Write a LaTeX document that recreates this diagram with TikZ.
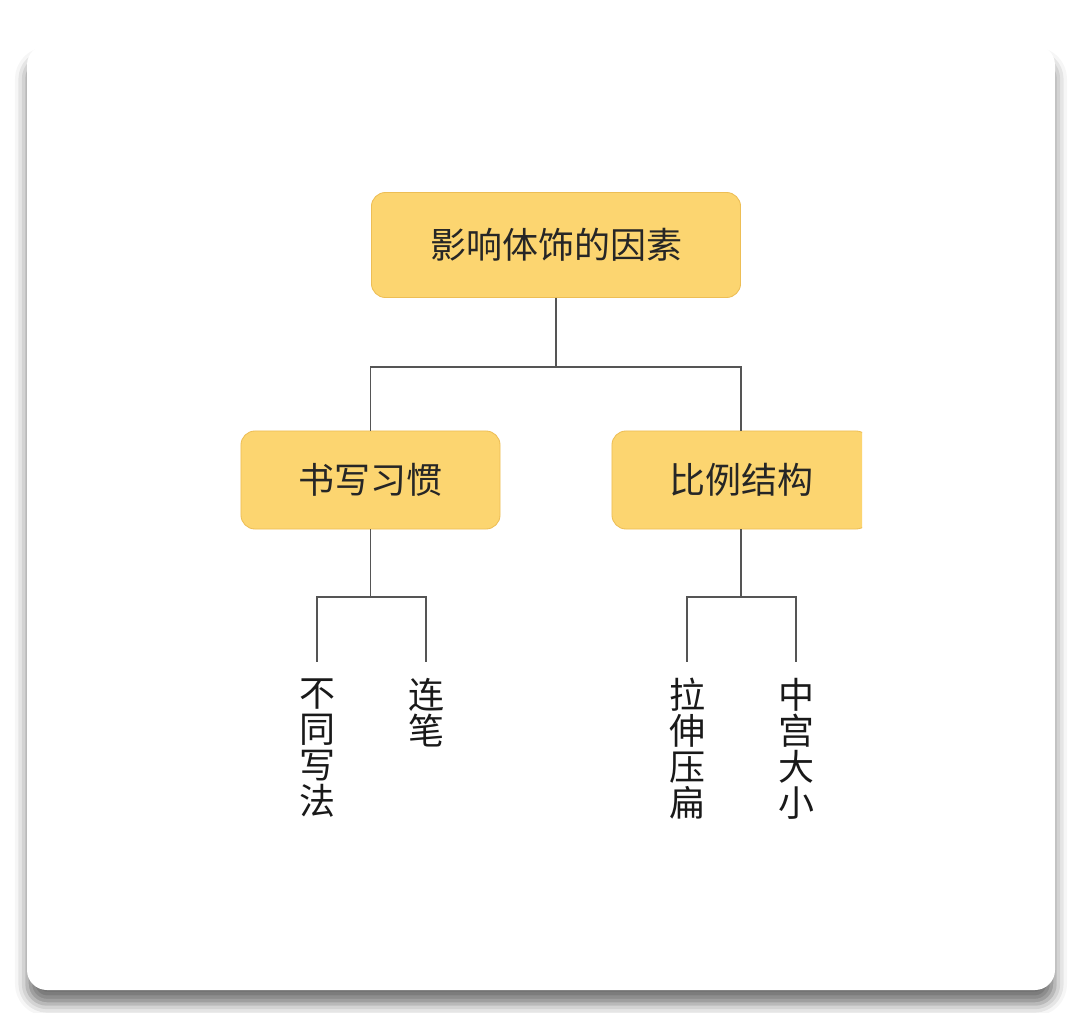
\documentclass[tikz,border=0pt]{standalone}
\usepackage{fontspec}
\setmainfont{Noto Sans CJK SC}
\usetikzlibrary{positioning,shadows.blur}
\definecolor{boxfill}{HTML}{FCD570}
\definecolor{boxline}{HTML}{EDBE55}
\definecolor{linkgray}{HTML}{555555}

\begin{document}
\begin{tikzpicture}[x=0.025cm, y=-0.025cm,
    topic/.style={rectangle, draw=boxline, line width=0.6pt, fill=boxfill, rounded corners=0.35cm, align=center, text=black!85, font=\fontsize{25.6}{25.6}\selectfont},
    leaf/.style={align=center, inner sep=0pt, text=black!90, font=\fontsize{25.6}{25.6}\selectfont},
    link/.style={draw=linkgray, line width=1.3pt}
]
    \useasboundingbox (0,0) rectangle (1080,1013);

    % Card
    \fill[white, rounded corners=0.5cm, blur shadow={shadow xshift=0cm, shadow yshift=-0.35cm, shadow blur radius=0.3cm, shadow opacity=55}] (27,45) rectangle (1055,990);

    % Topics
    \node[topic, minimum width=9.225cm, minimum height=2.625cm] (root) at (556,245) {影响体饰的因素};
    \node[topic, minimum width=6.475cm, minimum height=2.45cm] (shu) at (370.5,480) {书写习惯};
    \begin{scope}
        \clip (0,0) rectangle (862,1013);
        \node[topic, minimum width=6.45cm, minimum height=2.45cm] (bi) at (741,480) {比例结构};
    \end{scope}

    % Leaves
    \node[leaf, anchor=north] (butong) at (317,678) {不\\同\\写\\法};
    \node[leaf, anchor=north] (lianbi) at (426,678) {连\\笔};
    \node[leaf, anchor=north] (lashen) at (687,678) {拉\\伸\\压\\扁};
    \node[leaf, anchor=north] (zhonggong) at (796,678) {中\\宫\\大\\小};

    % Forks
    \coordinate (fork) at (556,367);
    \coordinate (forkL) at (370.5,597);
    \coordinate (forkR) at (741,597);

    % Links
    \draw[link] (root.south) -- (fork) -| (shu.north);
    \draw[link] (fork) -| (bi.north);
    \draw[link] (shu.south) -- (forkL);
    \draw[link, shorten >=0.4cm] (forkL) -| (butong.north);
    \draw[link, shorten >=0.4cm] (forkL) -| (lianbi.north);
    \draw[link] (bi.south) -- (forkR);
    \draw[link, shorten >=0.4cm] (forkR) -| (lashen.north);
    \draw[link, shorten >=0.4cm] (forkR) -| (zhonggong.north);

\end{tikzpicture}
\end{document}
